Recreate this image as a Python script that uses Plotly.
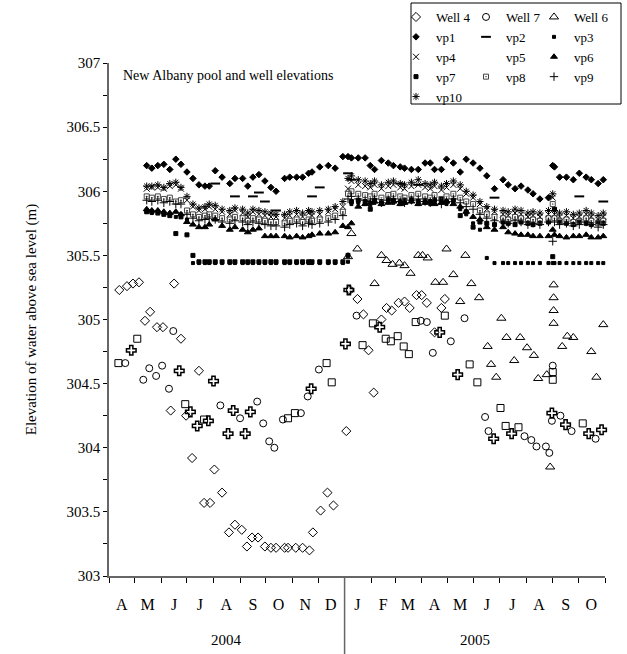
import plotly.graph_objects as go

N = None
FONT = "Liberation Serif"

# ---------------- data ----------------
well4_dates = ["2004-04-13","2004-04-22","2004-04-29","2004-05-06","2004-05-13","2004-05-19","2004-05-27","2004-06-03",
               "2004-06-12","2004-06-16","2004-06-24","2004-06-30","2004-07-07","2004-07-15","2004-07-21","2004-07-28",
               "2004-08-02","2004-08-11","2004-08-19","2004-08-26","2004-09-03","2004-09-09","2004-09-15","2004-09-22",
               "2004-09-30","2004-10-07","2004-10-13","2004-10-23","2004-10-27","2004-11-05","2004-11-13","2004-11-21",
               "2004-11-25","2004-12-04","2004-12-12","2004-12-19","2005-01-03","2005-01-16","2005-01-23","2005-01-29",
               "2005-02-04","2005-02-13","2005-02-19","2005-02-25","2005-03-05","2005-03-12","2005-03-18","2005-03-26",
               "2005-04-01","2005-04-07","2005-04-16","2005-04-24","2005-04-28"]
well4_vals = [305.23,305.26,305.28,305.29,304.99,305.06,304.94,304.94,304.29,305.28,304.85,304.25,303.92,304.60,
              303.57,303.57,303.83,303.65,303.34,303.40,303.36,303.23,303.30,303.30,303.23,303.22,303.22,303.22,
              303.22,303.22,303.22,303.20,303.34,303.51,303.65,303.55,304.13,305.16,305.04,304.76,304.43,305.00,
              305.09,305.07,305.13,305.14,305.09,305.19,305.19,305.13,304.90,305.09,305.16]

well7_dates = ["2004-04-20","2004-05-11","2004-05-18","2004-05-26","2004-06-02","2004-06-10","2004-06-15","2004-08-09",
               "2004-09-01","2004-09-21","2004-09-28","2004-10-05","2004-10-11","2004-10-21","2004-11-11","2004-11-19",
               "2004-12-02","2005-01-07","2005-01-15","2005-03-31","2005-04-07","2005-04-14","2005-05-05","2005-05-21",
               "2005-06-14","2005-06-18","2005-07-30","2005-08-07","2005-08-13","2005-08-24","2005-08-28","2005-08-31",
               "2005-09-01","2005-09-10","2005-09-23","2005-10-21"]
well7_vals = [304.66,304.53,304.62,304.56,304.64,304.46,304.91,304.33,304.23,304.36,304.19,304.05,304.00,304.22,
              304.27,304.40,304.61,305.23,305.03,304.99,304.98,304.74,304.83,305.01,304.24,304.13,304.09,304.06,
              304.01,304.01,303.96,304.21,304.64,304.25,304.13,304.07]

well6_dates = ["2005-01-05","2005-01-09","2005-01-16","2005-02-05","2005-02-13","2005-02-19","2005-02-26","2005-03-06",
               "2005-03-12","2005-03-19","2005-03-28","2005-04-02","2005-04-08","2005-04-17","2005-04-26","2005-04-30",
               "2005-05-08","2005-05-16","2005-05-22","2005-05-29","2005-06-07","2005-06-17","2005-06-21","2005-06-27",
               "2005-07-03","2005-07-09","2005-07-18","2005-07-25","2005-08-02","2005-08-10","2005-08-15","2005-08-25",
               "2005-08-29","2005-09-02","2005-09-02","2005-09-02","2005-09-02","2005-09-12","2005-09-18","2005-09-25",
               "2005-10-16","2005-10-22","2005-10-30"]
well6_vals = [305.49,305.67,305.55,305.28,305.50,305.46,305.43,305.44,305.42,305.36,305.50,305.50,305.48,305.29,
              305.29,305.55,305.35,305.14,305.50,305.28,305.17,304.79,304.65,304.55,305.01,304.86,304.68,304.86,
              304.78,304.72,304.54,304.57,303.85,305.27,305.17,305.07,304.97,304.79,304.87,304.86,304.75,304.55,
              304.96]

sq_dates = ["2004-04-12","2004-05-04","2004-06-29","2004-07-21","2004-10-27","2004-11-04","2004-12-11","2004-12-17",
            "2005-01-22","2005-02-03","2005-02-18","2005-02-24","2005-03-04","2005-03-11","2005-03-17","2005-03-25",
            "2005-04-28","2005-05-27","2005-06-05","2005-07-02","2005-07-08","2005-07-23","2005-09-01","2005-09-01",
            "2005-10-06"]
sq_vals = [304.66,304.85,304.34,304.22,304.23,304.27,304.66,304.51,304.80,304.97,304.85,304.83,304.87,304.79,
           304.73,304.98,305.03,304.65,304.51,304.31,304.17,304.16,304.59,304.53,304.19]

cr_dates = ["2004-04-27","2004-06-22","2004-07-05","2004-07-13","2004-07-26","2004-08-01","2004-08-18","2004-08-24",
            "2004-09-07","2004-09-13","2004-11-23","2005-01-02","2005-01-06","2005-02-11","2005-04-22","2005-05-13",
            "2005-06-24","2005-07-15","2005-08-31","2005-09-16","2005-10-13","2005-10-28"]
cr_vals = [304.76,304.60,304.28,304.17,304.21,304.52,304.11,304.29,304.11,304.28,304.46,304.81,305.23,304.94,
           304.90,304.57,304.07,304.11,304.27,304.18,304.11,304.14]

vp_dates = ["2004-05-15","2004-05-21","2004-05-28","2004-06-04","2004-06-11","2004-06-18","2004-06-24","2004-07-01",
            "2004-07-08","2004-07-15","2004-07-22","2004-07-27","2004-08-03","2004-08-11","2004-08-20","2004-08-26",
            "2004-09-04","2004-09-10","2004-09-16","2004-09-23","2004-09-30","2004-10-07","2004-10-13","2004-10-23",
            "2004-10-29","2004-11-06","2004-11-13","2004-11-20","2004-11-24","2004-12-03","2004-12-13","2004-12-21",
            "2004-12-30",
            "2005-01-05","2005-01-09","2005-01-17","2005-01-25","2005-01-31","2005-02-05","2005-02-13","2005-02-21",
            "2005-02-27","2005-03-07","2005-03-12","2005-03-20","2005-03-28","2005-04-05","2005-04-11","2005-04-16",
            "2005-04-24","2005-04-30","2005-05-08","2005-05-16","2005-05-23","2005-05-31","2005-06-08","2005-06-16",
            "2005-06-25","2005-07-05","2005-07-11","2005-07-19","2005-07-26","2005-08-03","2005-08-09","2005-08-17",
            "2005-08-27","2005-09-01","2005-09-03","2005-09-09","2005-09-17","2005-09-25","2005-10-02","2005-10-10",
            "2005-10-16","2005-10-24","2005-10-30"]

vp1 = [306.20,306.18,306.20,306.21,306.17,306.25,306.21,306.15,306.10,306.05,306.04,306.04,306.16,306.11,306.06,
       306.10,306.10,306.04,306.11,306.13,306.08,306.03,306.00,306.10,306.11,306.11,306.11,306.14,306.15,306.19,
       306.20,306.18,306.27,
       306.27,306.26,306.26,306.26,306.20,306.17,306.24,306.22,306.20,306.19,306.18,306.17,306.17,306.22,306.22,
       306.17,306.17,306.25,306.22,306.15,306.25,306.22,306.18,306.12,306.02,306.09,306.05,306.02,306.04,306.01,
       305.98,305.94,305.95,306.20,306.19,306.11,306.11,306.09,306.14,306.11,306.09,306.06,306.09]

vp2 = [N,N,N,N,N,N,N,N,N,N,N,N,306.06,N,N,305.96,N,N,305.96,305.99,305.92,N,305.85,N,N,N,N,N,305.96,306.03,
       N,N,N,
       306.14,306.09,N,N,N,N,N,N,N,306.06,N,N,306.05,N,N,N,N,N,N,N,N,N,N,N,305.95,N,N,N,N,N,N,N,N,N,N,N,N,N,
       305.96,N,N,N,305.92]

vp3 = [305.84,305.83,305.84,305.83,305.82,305.80,305.82,305.78,305.44,
       305.44,305.44,305.44,305.44,305.44,305.44,305.44,305.44,305.44,305.44,305.44,305.44,305.44,305.44,305.44,
       305.44,305.44,305.44,305.44,305.44,305.44,305.44,305.44,305.44,
       305.45,305.90,305.91,305.90,305.89,305.91,305.90,305.92,305.91,305.90,305.91,305.92,305.90,305.91,305.90,
       305.91,305.92,305.90,305.91,305.86,305.82,305.75,305.70,305.48,
       305.44,305.44,305.44,305.44,305.44,305.44,305.44,305.44,305.44,305.44,305.44,305.44,305.44,305.44,305.44,
       305.44,305.44,305.44,305.44]

vp4 = [306.02,306.03,306.03,306.02,306.04,306.05,306.02,305.93,305.88,305.85,305.86,305.88,305.86,305.84,305.82,
       305.85,305.83,305.80,305.84,305.82,305.81,305.80,305.80,305.79,305.81,305.82,305.80,305.83,305.81,305.82,
       305.84,305.86,305.88,
       306.02,306.08,306.05,306.04,306.03,306.05,306.02,306.04,306.05,306.03,306.02,306.04,306.05,306.03,306.02,
       306.04,306.01,306.03,306.05,306.02,305.98,305.95,305.90,305.86,305.84,305.82,305.81,305.83,305.82,305.80,
       305.81,305.80,305.82,305.95,305.82,305.80,305.81,305.79,305.80,305.82,305.80,305.78,305.80]

vp5 = [N] * 76

vp6 = [305.86,305.85,305.85,305.84,305.83,305.84,305.82,305.76,305.74,305.72,305.72,305.74,305.78,305.73,305.70,
       305.72,305.70,305.68,305.70,305.71,305.65,305.65,305.65,305.65,305.64,305.65,305.64,305.65,305.66,305.67,
       305.67,305.68,305.73,
       305.72,305.75,305.88,305.90,305.91,305.92,305.90,305.91,305.92,305.90,305.91,305.92,305.90,305.91,305.92,
       305.90,305.91,305.92,305.90,305.88,305.84,305.80,305.78,305.72,305.70,305.72,305.68,305.67,305.66,305.66,
       305.65,305.65,305.65,305.70,305.66,305.65,305.64,305.65,305.65,305.66,305.64,305.64,305.65]

vp7 = [305.84,305.84,305.83,305.82,305.81,305.67,305.80,305.66,305.50,
       305.45,305.45,305.45,305.45,305.45,305.45,305.45,305.45,305.45,305.45,305.45,305.45,305.45,305.45,305.45,
       305.45,305.45,305.45,305.45,305.45,305.45,305.45,305.45,305.45,
       305.50,305.92,305.93,305.92,305.86,305.93,305.92,305.94,305.93,305.92,305.93,305.94,305.92,305.93,305.92,
       305.93,305.94,305.92,305.93,305.81,305.84,305.72,
       305.76,305.75,305.74,305.76,305.75,305.74,305.76,305.75,305.74,305.75,305.76,305.49,305.86,305.76,305.75,
       305.74,305.76,305.75,305.74,305.76,305.75]

vp8 = [305.96,305.95,305.96,305.94,305.95,305.92,305.93,305.85,305.82,305.80,305.81,305.82,305.81,305.79,305.78,
       305.80,305.79,305.77,305.79,305.78,305.77,305.76,305.76,305.75,305.77,305.78,305.76,305.78,305.77,305.78,
       305.79,305.81,305.84,
       305.98,306.00,305.98,305.97,305.96,305.98,305.95,305.97,305.98,305.96,305.95,305.97,305.98,305.96,305.95,
       305.97,305.94,305.96,305.98,305.95,305.92,305.90,305.85,305.82,305.80,305.79,305.78,305.80,305.79,305.77,
       305.78,305.77,305.79,305.90,305.79,305.77,305.78,305.76,305.77,305.79,305.77,305.75,305.77]

vp9 = [305.93,305.92,305.93,305.91,305.92,305.90,305.90,305.82,305.79,305.77,305.78,305.79,305.78,305.76,305.75,
       305.77,305.76,305.74,305.76,305.75,305.74,305.73,305.73,305.72,305.74,305.75,305.73,305.75,305.74,305.75,
       305.76,305.78,305.81,
       305.94,305.96,305.94,305.93,305.92,305.94,305.91,305.93,305.94,305.92,305.91,305.93,305.94,305.92,305.91,
       305.93,305.90,305.92,305.94,305.91,305.88,305.86,305.82,305.79,305.77,305.76,305.75,305.77,305.76,305.74,
       305.75,305.74,305.76,305.61,305.76,305.74,305.75,305.73,305.74,305.76,305.74,305.72,305.74]

vp10 = [306.04,306.04,306.05,306.03,306.06,306.07,306.03,305.96,305.90,305.87,305.88,305.90,305.89,305.86,305.85,
        305.87,305.86,305.83,305.86,305.85,305.84,305.83,305.82,305.82,305.84,305.85,305.83,305.85,305.84,305.85,
        305.86,305.88,305.92,
        306.10,306.12,306.09,306.08,306.06,306.08,306.05,306.07,306.08,306.06,306.05,306.07,306.09,306.06,306.05,
        306.07,306.04,306.06,306.08,306.05,306.00,305.97,305.92,305.88,305.86,305.85,305.84,305.86,305.85,305.83,
        305.84,305.83,305.85,305.98,305.85,305.83,305.84,305.82,305.83,305.85,305.83,305.81,305.83]

month_starts = ["2004-04-01","2004-05-01","2004-06-01","2004-07-01","2004-08-01","2004-09-01","2004-10-01",
                "2004-11-01","2004-12-01","2005-01-01","2005-02-01","2005-03-01","2005-04-01","2005-05-01",
                "2005-06-01","2005-07-01","2005-08-01","2005-09-01","2005-10-01","2005-11-01"]
month_mids = ["2004-04-16","2004-05-16","2004-06-16","2004-07-16","2004-08-16","2004-09-16","2004-10-16",
              "2004-11-16","2004-12-16","2005-01-16","2005-02-15","2005-03-16","2005-04-16","2005-05-16",
              "2005-06-16","2005-07-16","2005-08-16","2005-09-16","2005-10-16"]
month_letters = ["A","M","J","J","A","S","O","N","D","J","F","M","A","M","J","J","A","S","O"]
year_labels = ["2004", "2005"]
year_centers = ["2004-08-16", "2005-06-02"]

# ---------------- figure ----------------
fig = go.Figure()


def add(x, y, name, symbol, size, legend, lw=1, color="black", show=True):
    marker = dict(symbol=symbol, size=size, color=color, line=dict(color=color, width=lw))
    fig.add_trace(go.Scatter(x=x, y=y, mode="markers", name=name, marker=marker,
                             legend=legend, showlegend=show, cliponaxis=False))


add(sq_dates, sq_vals, "Well (squares)", "square-open", 7, "legend", show=False)
add(cr_dates, cr_vals, "Well (crosses)", "cross-open", 8, "legend", lw=1.5, show=False)

# column 1
add(well4_dates, well4_vals, "Well 4", "diamond-open", 7, "legend")
add(vp_dates, vp1, "vp1", "diamond", 5, "legend")
add(vp_dates, vp4, "vp4", "x-thin-open", 6, "legend")
add(vp_dates, vp7, "vp7", "square", 4, "legend")
add(vp_dates, vp10, "vp10", "asterisk-open", 6, "legend")
# column 2
add(well7_dates, well7_vals, "Well 7", "circle-open", 7, "legend2")
add(vp_dates, vp2, "vp2", "line-ew-open", 7, "legend2", lw=2)
add(vp_dates, vp5, "vp5", "circle", 5, "legend2", color="rgba(0,0,0,0)")
add(vp_dates, vp8, "vp8", "square-open-dot", 5, "legend2", color="#444")
# column 3
add(well6_dates, well6_vals, "Well 6", "triangle-up-open", 8, "legend3")
add(vp_dates, vp3, "vp3", "square", 3, "legend3")
add(vp_dates, vp6, "vp6", "triangle-up", 6, "legend3")
add(vp_dates, vp9, "vp9", "cross-thin-open", 6, "legend3")

L, R, T, B = 109, 22, 63, 78
W, H = 627, 654
pw, ph = W - L - R, H - T - B


def px_x(p):
    return (p - L) / pw


def px_y(p):
    return (H - B - p) / ph


leg_common = dict(xanchor="left", yanchor="top", bgcolor="rgba(0,0,0,0)", borderwidth=0,
                  font=dict(family=FONT, size=13, color="black"), itemwidth=30, tracegroupgap=0,
                  orientation="v")

fig.update_layout(
    width=W, height=H,
    margin=dict(l=L, r=R, t=T, b=B, autoexpand=False),
    paper_bgcolor="white", plot_bgcolor="white",
    font=dict(family=FONT, size=15, color="black"),
    legend=dict(x=px_x(396), y=px_y(2), **leg_common),
    legend2=dict(x=px_x(466), y=px_y(2), **leg_common),
    legend3=dict(x=px_x(534), y=px_y(2), **leg_common),
    xaxis=dict(
        type="date", range=["2004-04-01", "2005-11-01"],
        tickmode="array", tickvals=month_mids, ticktext=month_letters,
        ticks="outside", ticklen=13, tickcolor="rgba(0,0,0,0)",
        tickfont=dict(family=FONT, size=16, color="black"),
        minor=dict(tickmode="array", tickvals=month_starts, ticks="outside", ticklen=5,
                   tickcolor="black", tickwidth=1, showgrid=False),
        showline=True, linecolor="#666", linewidth=1.5, showgrid=False, zeroline=False,
    ),
    yaxis=dict(
        range=[303, 307], tickmode="linear", tick0=303, dtick=0.5,
        ticks="outside", ticklen=4, tickcolor="black",
        minor=dict(dtick=0.25, ticks="outside", ticklen=4, tickcolor="black", showgrid=False),
        tickfont=dict(family=FONT, size=15, color="black"),
        showline=True, linecolor="#666", linewidth=1.5, showgrid=False, zeroline=False,
        title=dict(text="Elevation of water above sea level (m)",
                   font=dict(family=FONT, size=15, color="black"), standoff=26),
    ),
    shapes=[
        dict(type="rect", xref="paper", yref="paper",
             x0=px_x(411), x1=px_x(621), y0=px_y(104), y1=px_y(3),
             line=dict(color="black", width=1), fillcolor="rgba(0,0,0,0)"),
        dict(type="line", xref="x", yref="paper", x0="2005-01-01", x1="2005-01-01",
             y0=0, y1=px_y(654), line=dict(color="#666", width=1.5)),
    ],
    annotations=[
        dict(text="New Albany pool and well elevations", xref="paper", yref="paper",
             x=px_x(121), y=px_y(75), xanchor="left", yanchor="middle", showarrow=False,
             font=dict(family=FONT, size=14, color="black")),
    ] + [
        dict(text=t, xref="x", yref="paper", x=c, y=px_y(640), xanchor="center", yanchor="middle",
             showarrow=False, font=dict(family=FONT, size=15, color="black"))
        for t, c in zip(year_labels, year_centers)
    ],
)

fig.write_html("out.html")
